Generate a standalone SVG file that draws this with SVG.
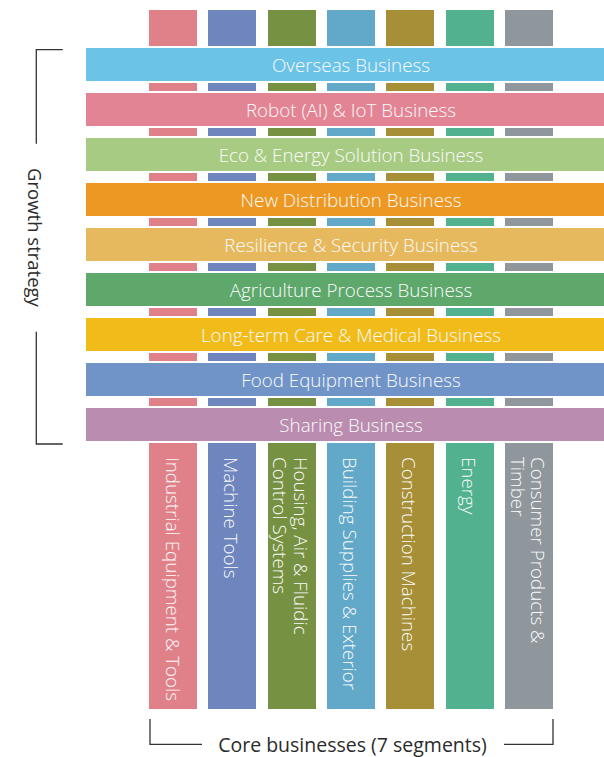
<svg xmlns="http://www.w3.org/2000/svg" width="604" height="757" viewBox="0 0 604 757">
<style>
.col{stroke:none}
.band{stroke:#fff;stroke-width:2}
.bt{font-family:"Open Sans","Liberation Sans",sans-serif;font-weight:300;font-size:18.8px;fill:#fbfbfb;text-anchor:middle}
.ct{font-family:"Open Sans","Liberation Sans",sans-serif;font-weight:300;font-size:18.8px;fill:#fbfbfb}
.lt{font-family:"Open Sans","Liberation Sans",sans-serif;font-weight:400;fill:#2b2b2b;text-anchor:middle}
.br{fill:none;stroke:#333;stroke-width:1.3}
</style>
<rect width="604" height="757" fill="#fff"/>
<g id="segments">
<g id="seg-industrial"><rect class="col" x="149" y="10" width="48" height="699" fill="#e0818a"/><text class="ct" transform="translate(165.5,457) rotate(90)">Industrial Equipment &amp; Tools</text></g>
<g id="seg-machine"><rect class="col" x="208" y="10" width="48" height="699" fill="#6e85be"/><text class="ct" transform="translate(224,457) rotate(90)">Machine Tools</text></g>
<g id="seg-housing"><rect class="col" x="268" y="10" width="48" height="699" fill="#779142"/><text class="ct" transform="translate(294,457) rotate(90)"><tspan x="0" y="0">Housing, Air &amp; Fluidic</tspan><tspan x="0" y="21">Control Systems</tspan></text></g>
<g id="seg-building"><rect class="col" x="327" y="10" width="48" height="699" fill="#62a8c9"/><text class="ct" transform="translate(343,457) rotate(90)">Building Supplies &amp; Exterior</text></g>
<g id="seg-construction"><rect class="col" x="386" y="10" width="48" height="699" fill="#a68f37"/><text class="ct" transform="translate(402,457) rotate(90)">Construction Machines</text></g>
<g id="seg-energy"><rect class="col" x="446" y="10" width="48" height="699" fill="#52b28f"/><text class="ct" transform="translate(462,457) rotate(90)">Energy</text></g>
<g id="seg-consumer"><rect class="col" x="505" y="10" width="48" height="699" fill="#8f979d"/><text class="ct" transform="translate(531,457) rotate(90)"><tspan x="0" y="0">Consumer Products &amp;</tspan><tspan x="0" y="20">Timber</tspan></text></g>
</g>
<g id="strategies">
<g id="st-overseas"><rect class="band" x="85" y="47" width="530" height="35" fill="#6cc3e8"/><text class="bt" x="351" y="72">Overseas Business</text></g>
<g id="st-robot"><rect class="band" x="85" y="92" width="530" height="35" fill="#e38494"/><text class="bt" x="351" y="117">Robot (AI) &amp; IoT Business</text></g>
<g id="st-eco"><rect class="band" x="85" y="137" width="530" height="35" fill="#a8cb84"/><text class="bt" x="351" y="162">Eco &amp; Energy Solution Business</text></g>
<g id="st-distribution"><rect class="band" x="85" y="182" width="530" height="35" fill="#ec9823"/><text class="bt" x="351" y="207">New Distribution Business</text></g>
<g id="st-resilience"><rect class="band" x="85" y="227" width="530" height="35" fill="#e7b95e"/><text class="bt" x="351" y="252">Resilience &amp; Security Business</text></g>
<g id="st-agriculture"><rect class="band" x="85" y="272" width="530" height="35" fill="#5ea86c"/><text class="bt" x="351" y="297">Agriculture Process Business</text></g>
<g id="st-care"><rect class="band" x="85" y="317" width="530" height="35" fill="#f1bb1a"/><text class="bt" x="351" y="342">Long-term Care &amp; Medical Business</text></g>
<g id="st-food"><rect class="band" x="85" y="362" width="530" height="35" fill="#7094c8"/><text class="bt" x="351" y="387">Food Equipment Business</text></g>
<g id="st-sharing"><rect class="band" x="85" y="407" width="530" height="35" fill="#ba8cb0"/><text class="bt" x="351" y="432">Sharing Business</text></g>
</g>
<g id="connectors">
<path class="br" d="M62.7,49.7 H36.3 V143.7 M36.3,331.7 V444 H62.7"/>
<path class="br" d="M202,744.3 H150 V719 M504,744.3 H553 V719"/>
</g>
<g id="labels">
<text class="lt" font-size="18.5" transform="translate(28,237.5) rotate(90)">Growth strategy</text>
<text class="lt" font-size="19.5" x="352.5" y="752">Core businesses (7 segments)</text>
</g>
</svg>
